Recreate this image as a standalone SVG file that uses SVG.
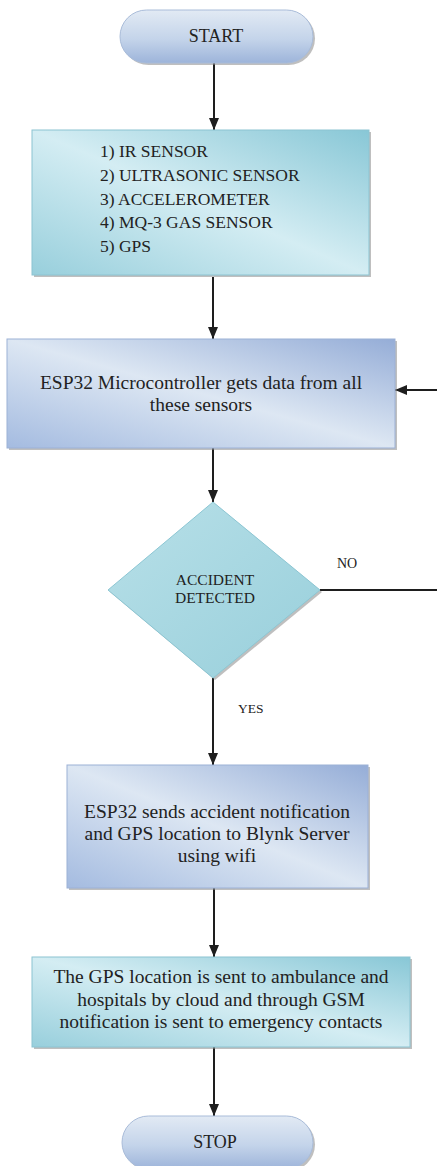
<svg xmlns="http://www.w3.org/2000/svg" width="437" height="1166" viewBox="0 0 437 1166">
<style>
text{font-family:"Liberation Serif","Times New Roman",serif;fill:#222}
.box{font-size:19.5px;text-anchor:middle}
.lst{font-size:17.5px}
.term{font-size:18px;text-anchor:middle}
.dec{font-size:15.5px;text-anchor:middle}
.lbl{font-size:14px}
.conn{fill:none;stroke:#1e1e1e;stroke-width:2}
.shadow{fill:#8a8a8a;opacity:0.55}
</style>
<defs>
<linearGradient id="gTeal" x1="1" y1="0" x2="0" y2="1">
<stop offset="0" stop-color="#88c7d6"/>
<stop offset="0.5" stop-color="#d4edf3"/>
<stop offset="1" stop-color="#98cfdc"/>
</linearGradient>
<linearGradient id="gBlue" x1="1" y1="0" x2="0" y2="1">
<stop offset="0" stop-color="#95add7"/>
<stop offset="0.5" stop-color="#dde7f3"/>
<stop offset="1" stop-color="#a4bbe0"/>
</linearGradient>
<linearGradient id="gPill" x1="0" y1="0" x2="0" y2="1">
<stop offset="0" stop-color="#e2eaf4"/>
<stop offset="0.55" stop-color="#c4d4ea"/>
<stop offset="1" stop-color="#9db4da"/>
</linearGradient>
<linearGradient id="gDia" x1="0" y1="0" x2="1" y2="1">
<stop offset="0" stop-color="#b8e0e8"/>
<stop offset="1" stop-color="#98cfdb"/>
</linearGradient>
<marker id="arr" markerUnits="userSpaceOnUse" markerWidth="12" markerHeight="10" refX="12" refY="5" orient="auto">
<path d="M0,0 L12,5 L0,10 z" fill="#1e1e1e"/>
</marker>
</defs>

<g id="connectors">
<path class="conn" d="M214,63 V130" marker-end="url(#arr)"/>
<path class="conn" d="M213,277 V339" marker-end="url(#arr)"/>
<path class="conn" d="M213,448 V502" marker-end="url(#arr)"/>
<path class="conn" d="M213,678 V765" marker-end="url(#arr)"/>
<path class="conn" d="M214,888 V957" marker-end="url(#arr)"/>
<path class="conn" d="M214,1047 V1116" marker-end="url(#arr)"/>
<path class="conn" d="M320,590 H445 V390 H395" marker-end="url(#arr)"/>
</g>

<g id="start">
<rect class="shadow" x="122" y="12" width="193" height="53" rx="26.5"/>
<rect x="120" y="10" width="193" height="53" rx="26.5" fill="url(#gPill)" stroke="#a9bcd9" stroke-width="1"/>
<text class="term" x="216" y="42">START</text>
</g>

<g id="sensors">
<rect class="shadow" x="34" y="132" width="337" height="145"/>
<rect x="32" y="130" width="337" height="145" fill="url(#gTeal)" stroke="#8cc4d2" stroke-width="1"/>
<text class="lst" x="100" y="157">1) IR SENSOR</text>
<text class="lst" x="100" y="181">2) ULTRASONIC SENSOR</text>
<text class="lst" x="100" y="205">3) ACCELEROMETER</text>
<text class="lst" x="100" y="228">4) MQ-3 GAS SENSOR</text>
<text class="lst" x="100" y="252">5) GPS</text>
</g>

<g id="esp32">
<rect class="shadow" x="9" y="341" width="388" height="109"/>
<rect x="7" y="339" width="388" height="109" fill="url(#gBlue)" stroke="#9cb1d6" stroke-width="1"/>
<text class="box" x="201" y="389">ESP32 Microcontroller gets data from all</text>
<text class="box" x="201" y="411">these sensors</text>
</g>

<g id="decision">
<polygon class="shadow" points="215,504 322,592 215,680 110,592"/>
<polygon points="213,502 320,590 213,678 108,590" fill="url(#gDia)" stroke="#8cc6d3" stroke-width="1"/>
<text class="dec" x="215" y="585">ACCIDENT</text>
<text class="dec" x="215" y="603">DETECTED</text>
<text class="lbl" x="337" y="568">NO</text>
<text class="lbl" x="238" y="713" style="font-size:13.5px">YES</text>
</g>

<g id="notify">
<rect class="shadow" x="69" y="767" width="301" height="123"/>
<rect x="67" y="765" width="301" height="123" fill="url(#gBlue)" stroke="#9cb1d6" stroke-width="1"/>
<text class="box" x="217" y="818">ESP32 sends accident notification</text>
<text class="box" x="217" y="840">and GPS location to Blynk Server</text>
<text class="box" x="217" y="862">using wifi</text>
</g>

<g id="alert">
<rect class="shadow" x="34" y="959" width="378" height="90"/>
<rect x="32" y="957" width="378" height="90" fill="url(#gTeal)" stroke="#8cc4d2" stroke-width="1"/>
<text class="box" x="221" y="983">The GPS location is sent to ambulance and</text>
<text class="box" x="221" y="1006">hospitals by cloud and through GSM</text>
<text class="box" x="221" y="1028">notification is sent to emergency contacts</text>
</g>

<g id="stop">
<rect class="shadow" x="124" y="1118" width="191" height="53" rx="26.5"/>
<rect x="122" y="1116" width="191" height="53" rx="26.5" fill="url(#gPill)" stroke="#a9bcd9" stroke-width="1"/>
<text class="term" x="215" y="1148">STOP</text>
</g>
</svg>
